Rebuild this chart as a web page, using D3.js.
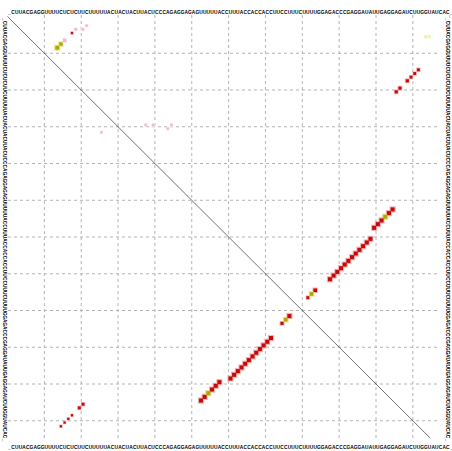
<!DOCTYPE html>
<meta charset="utf-8">
<script src="https://d3js.org/d3.v7.min.js"></script>
<style>
body { margin: 0; background: #fff; }
.seq { font: bold 4.8px "Liberation Sans", sans-serif; fill: #000; }
</style>
<div id="dotplot"></div>
<script>

// consensus sequence (gaps shown as _)
var sequence = "_CUUACGAGGUUUUCUCUCUUCUUUUUACUACUACUUACUCCCAGAGGAGAGUUUUUACCUUUACCACCACCUUCCUUUCUUUUGGAGACCCGAGGAUAUUGAGGAGAUCUUGGUAUCAC_";

// pairs in upper right triangle: [i, j, prob, colour]
var upperPairs = [
  [53,105,1,"r"],[54,104,1,"r"],[55,103,1,"y"],[56,102,1,"r"],[57,101,1,"r"],[58,100,1,"r"],
  [61,99,1,"r"],[62,98,1,"r"],[63,97,1,"r"],[64,96,1,"r"],[65,95,1,"r"],[66,94,1,"r"],
  [67,93,1,"r"],[68,92,1,"r"],[69,91,1,"r"],[70,90,1,"r"],[71,89,1,"r"],[72,88,1,"r"],
  [75,84,0.8,"r"],[76,83,0.8,"y"],[77,82,0.5,"r"],
  [15,112,0.5,"r"],[16,111,0.5,"r"],[17,110,0.5,"r"],[18,109,0.6,"r"],[20,107,0.6,"r"],[21,106,0.6,"r"],
  [9,14,0.9,"y"],[8,15,0.7,"y"],[7,16,0.6,"p"],[5,18,0.3,"r"],
  [4,19,0.4,"p"],[4,21,0.3,"p"],[3,22,0.3,"p"],
  [6,114,0.4,"l"],[6,115,0.3,"l"],
  [30,38,0.3,"p"],[30,40,0.3,"p"],[31,44,0.3,"p"],[30,45,0.3,"p"]
];

// pairs in lower left triangle
var lowerPairs = [
  [53,105,1,"r"],[54,104,1,"r"],[55,103,1,"y"],[56,102,1,"r"],[57,101,1,"r"],[58,100,1,"r"],
  [61,99,1,"r"],[62,98,1,"r"],[63,97,1,"r"],[64,96,1,"r"],[65,95,1,"r"],[66,94,1,"r"],
  [67,93,1,"r"],[68,92,1,"r"],[69,91,1,"r"],[70,90,1,"r"],[71,89,1,"r"],[72,88,1,"r"],
  [75,84,0.6,"r"],[76,83,0.8,"y"],[77,82,1,"r"],
  [15,112,0.3,"r"],[16,111,0.3,"r"],[17,110,0.3,"r"],[18,109,0.3,"r"],[20,107,0.5,"r"],[21,106,0.5,"r"],
  [26,32,0.3,"p"]
];

var colours = {r: "#c40a0a", y: "#b0a800", p: "#f2b8c0", l: "#f0eca0"};
var halos = {r: "#f4b6b6", y: "#e6e290", p: "#fbe4e8", l: "#faf8dc"};

var W = 452, H = 451;
var n = sequence.length;
var cell = 3.68;

// positions fitted to the picture
var x = d3.scaleLinear().domain([0.5, n + 0.5]).range([7.5, 7.5 + n * 3.685]);
var y = d3.scaleLinear().domain([0.5, n + 0.5]).range([16.5, 16.5 + n * 3.675]);
// side labels sit a little tighter than the rows
var sideY = d3.scaleLinear().domain([1, n]).range([19, 440]);

var svg = d3.select("#dotplot").append("svg")
    .attr("width", W)
    .attr("height", H);

// grid every 10 nt
var gridTicks = d3.range(10, n, 10).map(function(d) { return d + 0.5; });
svg.append("g").selectAll("line.v")
  .data(gridTicks).enter().append("line")
    .attr("x1", function(d) { return x(d); })
    .attr("x2", function(d) { return x(d); })
    .attr("y1", 15).attr("y2", 439)
    .attr("stroke", "#b4b4b4").attr("stroke-width", 1)
    .attr("stroke-dasharray", "3,3");
svg.append("g").selectAll("line.h")
  .data(gridTicks).enter().append("line")
    .attr("y1", function(d) { return y(d); })
    .attr("y2", function(d) { return y(d); })
    .attr("x1", 8).attr("x2", 440)
    .attr("stroke", "#b4b4b4").attr("stroke-width", 1)
    .attr("stroke-dasharray", "3,3");

// diagonal, stops where the grid stops
var diagEnd = y.invert(438);
svg.append("line")
  .attr("x1", x(0.5)).attr("y1", y(0.5))
  .attr("x2", x(diagEnd)).attr("y2", y(diagEnd))
  .attr("stroke", "#333").attr("stroke-width", 0.7);

// sequence round the box
var letters = sequence.split("");
svg.append("g").selectAll("text")
  .data(letters).enter().append("text")
    .attr("class", "seq")
    .attr("text-anchor", "middle")
    .attr("x", function(d, i) { return x(i + 1); })
    .attr("y", 14)
    .text(function(d) { return d; });
svg.append("g").selectAll("text")
  .data(letters).enter().append("text")
    .attr("class", "seq")
    .attr("text-anchor", "middle")
    .attr("x", function(d, i) { return x(i + 1); })
    .attr("y", 448.5)
    .text(function(d) { return d; });
svg.append("g").selectAll("text")
  .data(letters).enter().append("text")
    .attr("class", "seq")
    .attr("text-anchor", "middle")
    .attr("transform", function(d, i) { return "translate(2.5," + sideY(i + 1) + ") rotate(90)"; })
    .text(function(d) { return d; });
svg.append("g").selectAll("text")
  .data(letters).enter().append("text")
    .attr("class", "seq")
    .attr("text-anchor", "middle")
    .attr("transform", function(d, i) { return "translate(445.5," + sideY(i + 1) + ") rotate(90)"; })
    .text(function(d) { return d; });

// draw a set of boxes; upper: column j, row i. lower: column i, row j
function drawBoxes(data, upper) {
  var g = svg.append("g");
  var cx = function(d) { return upper ? x(d[1]) : x(d[0]); };
  var cy = function(d) { return upper ? y(d[0]) : y(d[1]); };
  g.selectAll("rect.halo").data(data).enter().append("rect")
    .attr("x", function(d) { return cx(d) - cell * 0.85 * Math.sqrt(d[2]); })
    .attr("y", function(d) { return cy(d) - cell * 0.85 * Math.sqrt(d[2]); })
    .attr("width", function(d) { return cell * 1.7 * Math.sqrt(d[2]); })
    .attr("height", function(d) { return cell * 1.7 * Math.sqrt(d[2]); })
    .attr("fill", function(d) { return halos[d[3]]; });
  g.selectAll("rect.box").data(data).enter().append("rect")
    .attr("x", function(d) { return cx(d) - cell * 0.55 * Math.sqrt(d[2]); })
    .attr("y", function(d) { return cy(d) - cell * 0.55 * Math.sqrt(d[2]); })
    .attr("width", function(d) { return cell * 1.1 * Math.sqrt(d[2]); })
    .attr("height", function(d) { return cell * 1.1 * Math.sqrt(d[2]); })
    .attr("fill", function(d) { return colours[d[3]]; });
}
drawBoxes(upperPairs, true);
drawBoxes(lowerPairs, false);

</script>
